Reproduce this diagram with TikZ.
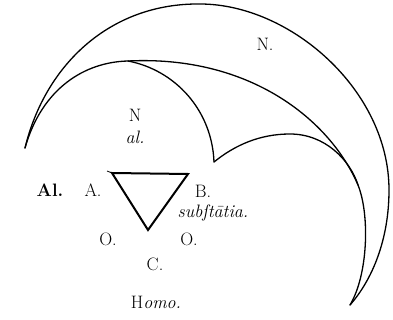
\documentclass[tikz,border=0pt]{standalone}
\usepackage{fontspec}
\begin{document}
\begin{tikzpicture}[x=1pt,y=-1pt,
  arcline/.style={line width=1.3pt,line join=round,line cap=round},
  tri/.style={line width=2pt,line join=miter},
  lbl/.style={font=\fontsize{18}{21}\selectfont,inner sep=0pt},
  ilbl/.style={font=\fontsize{18}{21}\selectfont\itshape,inner sep=0pt}]
\useasboundingbox (0,0) rectangle (393,320);
\coordinate (L) at (25,148);
\coordinate (Bt) at (350,305);
\coordinate (Tp) at (200,4);
\coordinate (R) at (389,190);
\coordinate (Ap) at (128,61);
\coordinate (J) at (358,185);
\coordinate (Ic) at (214,162);
\coordinate (Im) at (290,134);
% outer arc
\draw[arcline] (L) .. controls (45,65) and (110,3) .. (Tp)
  .. controls (290,4) and (389,90) .. (R)
  .. controls (389,240) and (372,280) .. (Bt);
% middle arc
\draw[arcline] (L) .. controls (42,88) and (85,62) .. (Ap)
  .. controls (250,55) and (330,120) .. (J)
  .. controls (370,215) and (368,275) .. (Bt);
% descending branch
\draw[arcline] (Ap) .. controls (175,70) and (212,110) .. (Ic);
% inner arc
\draw[arcline] (Ic) .. controls (235,145) and (260,134) .. (Im)
  .. controls (325,134) and (350,160) .. (J);
% triangle
\coordinate (A) at (112,173);
\coordinate (B) at (188,174);
\coordinate (C) at (148,230);
\draw[tri] (A) -- (B) -- (C) -- cycle;
\coordinate (t) at (107,171);
\draw[line width=0.8pt] (t) -- (A);
% labels
\node[lbl] (n1) at (265,44) {N.};
\node[lbl] (n2) at (135,115) {N};
\node[ilbl] (al) at (135,137) {al.};
\node[lbl,font=\fontsize{18}{21}\selectfont\bfseries] (Al) at (50,190) {Al.};
\node[lbl] (la) at (93,190) {A.};
\node[lbl] (lb) at (203,191) {B.};
\node[ilbl] (sub) at (213,213) {subſtātia.};
\node[lbl] (o1) at (108,239) {O.};
\node[lbl] (o2) at (189,239) {O.};
\node[lbl] (lc) at (155,264) {C.};
\node[lbl] (homo) at (156,302) {H\textit{omo.}};
\end{tikzpicture}
\end{document}
